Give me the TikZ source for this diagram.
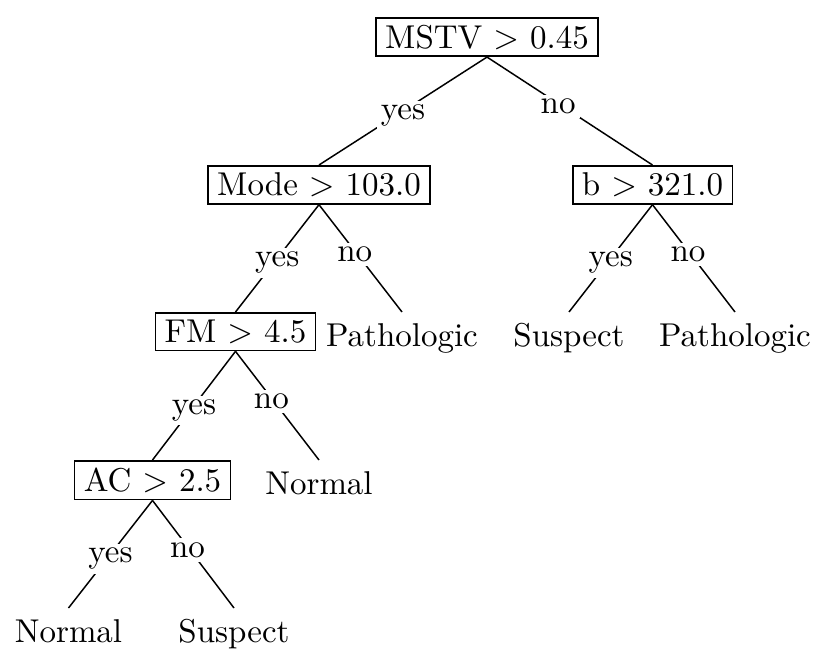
\documentclass[tikz,border=0pt]{standalone}
\begin{document}
\begin{tikzpicture}[
  x=0.30303pt, y=-0.30303pt,
  test/.style={draw, line width=0.5pt, inner xsep=2.8pt, inner ysep=2.1pt, anchor=north},
  leaf/.style={anchor=north},
  lab/.style={fill=white, inner sep=1.2pt},
  yeslab/.style={lab, pos=0.5, yshift=-1.4pt},
  nolab/.style={lab, pos=0.43, yshift=-1pt},
  branch/.style={draw, line width=0.45pt}
]
\useasboundingbox (0,0) rectangle (818,650);

% decision nodes
\node[test] (root) at (487,17)    {MSTV $>$ 0.45};
\node[test] (mode) at (319,165)   {Mode $>$ 103.0};
\node[test] (bval) at (652.5,165) {b $>$ 321.0};
\node[test] (fm)   at (235.5,312) {FM $>$ 4.5};
\node[test] (ac)   at (152.5,460) {AC $>$ 2.5};

% leaves
\node[leaf] (pathA)    at (402,312) {Pathologic};
\node[leaf] (suspA)    at (569,312) {Suspect};
\node[leaf] (pathB)    at (735,312) {Pathologic};
\node[leaf] (normA)    at (319,460) {Normal};
\node[leaf] (normB)    at (68.5,608) {Normal};
\node[leaf] (suspB)    at (234,608) {Suspect};

% branches
\path[branch] (root.south) -- (mode.north)  node[yeslab] {yes};
\path[branch] (root.south) -- (bval.north)  node[nolab]  {no};
\path[branch] (mode.south) -- (fm.north)    node[yeslab] {yes};
\path[branch] (mode.south) -- (pathA.north) node[nolab]  {no};
\path[branch] (bval.south) -- (suspA.north) node[yeslab] {yes};
\path[branch] (bval.south) -- (pathB.north) node[nolab]  {no};
\path[branch] (fm.south) -- (ac.north)      node[yeslab] {yes};
\path[branch] (fm.south) -- (normA.north)   node[nolab]  {no};
\path[branch] (ac.south) -- (normB.north)   node[yeslab] {yes};
\path[branch] (ac.south) -- (suspB.north)   node[nolab]  {no};
\end{tikzpicture}
\end{document}
